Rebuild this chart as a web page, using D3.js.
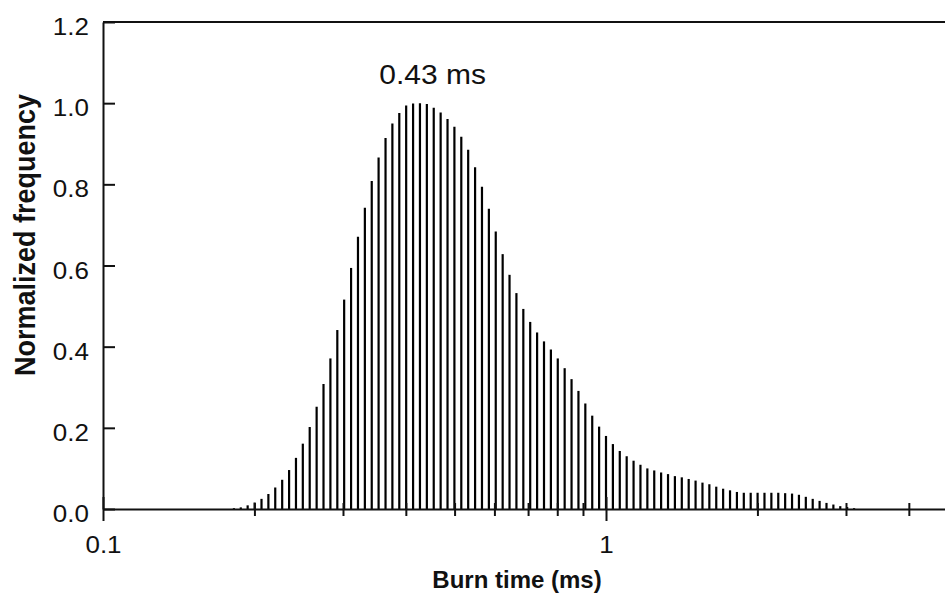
<!DOCTYPE html>
<html><head><meta charset="utf-8">
<script src="https://cdn.jsdelivr.net/npm/d3@7"></script>
<style>body{margin:0;background:#fff}svg{display:block}</style>
</head><body>
<svg id="chart" width="945" height="595"></svg>
<script>
// ---- data ----
const binCenters = [
  0.1821,0.1879,0.1939,0.2002,0.2066,0.2132,0.2200,0.2271,0.2344,0.2419,
  0.2496,0.2576,0.2659,0.2744,0.2832,0.2923,0.3016,0.3113,0.3213,0.3316,
  0.3422,0.3531,0.3645,0.3761,0.3882,0.4006,0.4135,0.4267,0.4404,0.4545,
  0.4691,0.4841,0.4996,0.5156,0.5321,0.5492,0.5668,0.5850,0.6037,0.6231,
  0.6430,0.6636,0.6849,0.7068,0.7295,0.7529,0.7770,0.8019,0.8276,0.8541,
  0.8815,0.9097,0.9389,0.9690,1.0000,1.0320,1.0651,1.0993,1.1345,1.1708,
  1.2084,1.2471,1.2870,1.3283,1.3708,1.4148,1.4601,1.5069,1.5552,1.6050,
  1.6565,1.7095,1.7643,1.8209,1.8792,1.9394,2.0016,2.0657,2.1319,2.2002,
  2.2707,2.3435,2.4186,2.4961,2.5761,2.6586,2.7438,2.8317,2.9225,3.0161,
  3.1128
];
const frequency = [
  0.002,0.004,0.009,0.016,0.025,0.037,0.053,0.072,0.096,0.126,
  0.161,0.202,0.252,0.308,0.371,0.441,0.516,0.594,0.671,0.742,
  0.808,0.866,0.914,0.950,0.976,0.994,0.999,1.000,0.998,0.989,
  0.977,0.961,0.942,0.917,0.885,0.842,0.794,0.740,0.684,0.628,
  0.577,0.532,0.493,0.461,0.435,0.413,0.393,0.371,0.347,0.320,
  0.291,0.260,0.230,0.203,0.180,0.160,0.143,0.130,0.119,0.109,
  0.100,0.095,0.090,0.086,0.081,0.078,0.074,0.070,0.065,0.061,
  0.055,0.050,0.046,0.042,0.040,0.040,0.040,0.040,0.040,0.040,
  0.039,0.038,0.035,0.030,0.025,0.020,0.015,0.011,0.007,0.005,
  0.002
];
const yTickValues = [0, 0.2, 0.4, 0.6, 0.8, 1.0, 1.2];
const xMajorTicks = [0.1, 1];
const xMinorTicks = [0.2, 0.3, 0.4, 0.5, 0.6, 0.7, 0.8, 0.9, 2, 3, 4, 5];
const peakValue = 0.43;
const peakText = "0.43 ms";
const xTitle = "Burn time (ms)";
const yTitle = "Normalized frequency";

// ---- layout ----
const FONT = "'Liberation Sans', Arial, Helvetica, sans-serif";
const SQ = 0.9; // vertical squash of glyphs in the reference
const M = { left: 103, bottom: 509, top: 22 };
const svg = d3.select("#chart");

const x = d3.scaleLog().domain([0.1, 5]).range([M.left, M.left + 503 * Math.log10(50)]);
const y = d3.scaleLinear().domain([0, 1.2]).range([M.bottom, M.top]);

// bars
svg.append("g").selectAll("line").data(binCenters).join("line")
  .attr("x1", d => x(d)).attr("x2", d => x(d))
  .attr("y1", y(0)).attr("y2", (d, i) => y(frequency[i]))
  .attr("stroke", "#000").attr("stroke-width", 2.2);

// top frame line
svg.append("line").attr("x1", M.left).attr("x2", 945).attr("y1", y(1.2)).attr("y2", y(1.2))
  .attr("stroke", "#111").attr("stroke-width", 2);

// y axis
const yAxis = svg.append("g").attr("transform", `translate(${M.left},0)`)
  .call(d3.axisLeft(y).tickValues(yTickValues).tickFormat(d3.format(".1f"))
    .tickSizeInner(-12).tickSizeOuter(0).tickPadding(14));
yAxis.select(".domain").attr("stroke", "#111").attr("stroke-width", 2);
yAxis.selectAll(".tick line").attr("stroke", "#111").attr("stroke-width", 2);
yAxis.selectAll(".tick text")
  .attr("font-family", FONT).attr("font-size", 26).attr("fill", "#111")
  .attr("x", -14).attr("dy", (12.6 / SQ) + "px")
  .attr("transform", `scale(1,${SQ})`);

// x axis (major)
const xAxis = svg.append("g").attr("transform", `translate(0,${M.bottom})`)
  .call(d3.axisBottom(x).tickValues(xMajorTicks).tickFormat(d3.format("~g"))
    .tickSizeInner(12).tickSizeOuter(0));
xAxis.select(".domain").attr("stroke", "#111").attr("stroke-width", 2);
xAxis.selectAll(".tick line").attr("stroke", "#111").attr("stroke-width", 2).attr("y1", -12);
xAxis.selectAll(".tick text")
  .attr("font-family", FONT).attr("font-size", 26).attr("fill", "#111")
  .attr("y", 0).attr("dy", (44 / SQ) + "px")
  .attr("transform", `scale(1,${SQ})`);

// x axis (minor, crossing)
const xMinor = svg.append("g").attr("transform", `translate(0,${M.bottom})`)
  .call(d3.axisBottom(x).tickValues(xMinorTicks).tickFormat("").tickSizeInner(7).tickSizeOuter(0));
xMinor.select(".domain").remove();
xMinor.selectAll(".tick line").attr("stroke", "#111").attr("stroke-width", 2).attr("y1", -6);

// peak annotation
svg.append("g").attr("transform", `translate(${x(peakValue) + 11},84) scale(1,${SQ})`)
  .append("text").attr("text-anchor", "middle")
  .attr("font-family", FONT).attr("font-size", 30).attr("fill", "#111")
  .text(peakText);

// axis titles
svg.append("text").attr("x", 517).attr("y", 588).attr("text-anchor", "middle")
  .attr("font-family", FONT).attr("font-size", 24).attr("font-weight", "bold").attr("fill", "#111")
  .text(xTitle);

svg.append("g").attr("transform", `translate(35,235) scale(1,${SQ})`)
  .append("text").attr("text-anchor", "middle").attr("transform", "rotate(-90)")
  .attr("font-family", FONT).attr("font-size", 30).attr("font-weight", "bold").attr("fill", "#111")
  .text(yTitle);
</script>
</body></html>
